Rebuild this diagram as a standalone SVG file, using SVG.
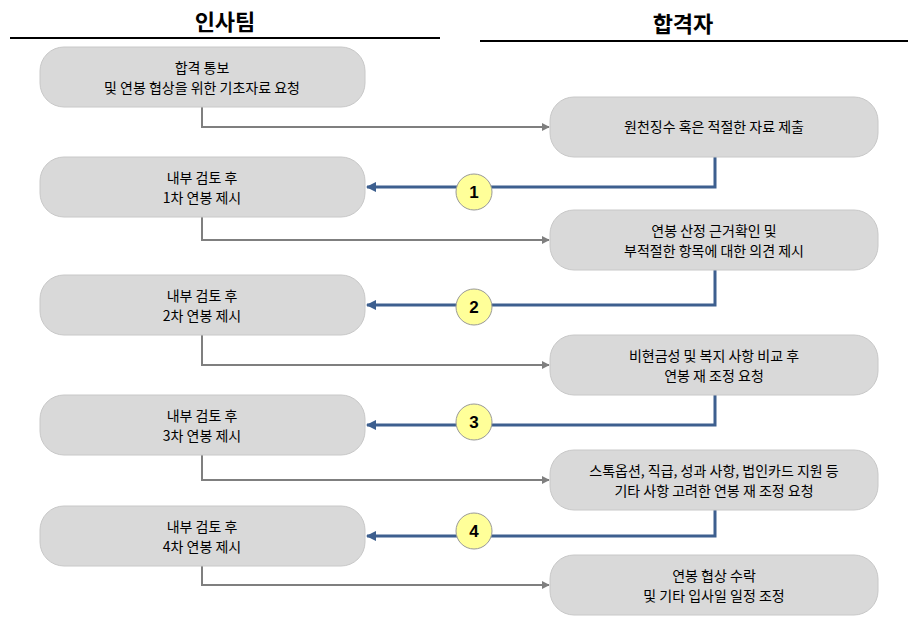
<svg xmlns="http://www.w3.org/2000/svg" width="910" height="630" viewBox="0 0 910 630">
<defs>
<marker id="ag" viewBox="0 0 10 10" refX="9" refY="5" markerWidth="4" markerHeight="4" orient="auto"><path d="M0,0L10,5L0,10z" fill="#7f7f7f"/></marker>
<marker id="ab" viewBox="0 0 10 10" refX="9" refY="5" markerWidth="3.5" markerHeight="3.5" orient="auto"><path d="M0,0L10,5L0,10z" fill="#3d5f8f"/></marker>
</defs>
<style>
.b{fill:#d9d9d9;stroke:#c8c8c8;stroke-width:1}
.t{font-family:"Noto Sans CJK KR",sans-serif;font-size:14px;fill:#000;text-anchor:middle}
.h{font-family:"Noto Sans CJK KR",sans-serif;font-size:22px;font-weight:bold;text-anchor:middle}
.g{fill:none;stroke:#7f7f7f;stroke-width:2;marker-end:url(#ag)}
.bl{fill:none;stroke:#3d5f8f;stroke-width:3;marker-end:url(#ab)}
.c{fill:#ffff99;stroke:#999;stroke-width:1}
.n{font-family:"Liberation Sans",sans-serif;font-size:17px;font-weight:bold;text-anchor:middle}
</style>
<rect width="910" height="630" fill="#fff"/>
<text class="h" x="225" y="30">인사팀</text>
<line x1="10" y1="38" x2="440" y2="38" stroke="#000" stroke-width="2"/>
<text class="h" x="683" y="32">합격자</text>
<line x1="480" y1="41" x2="908" y2="41" stroke="#000" stroke-width="2"/>
<g id="connectors">
<path class="g" d="M202,107V127H549"/>
<path class="bl" d="M715,157V187H367"/>
<path class="g" d="M202,217V240H549"/>
<path class="bl" d="M715,270V305H367"/>
<path class="g" d="M202,335V365H549"/>
<path class="bl" d="M715,395V425H367"/>
<path class="g" d="M202,455V480H549"/>
<path class="bl" d="M715,510V536H367"/>
<path class="g" d="M202,566V585H549"/>
</g>
<g id="c1"><ellipse class="c" cx="474" cy="192" rx="18" ry="18"/><text class="n" x="474" y="198">1</text></g>
<g id="c2"><ellipse class="c" cx="474" cy="307" rx="18" ry="18"/><text class="n" x="474" y="313">2</text></g>
<g id="c3"><ellipse class="c" cx="474" cy="422" rx="18" ry="18"/><text class="n" x="474" y="428">3</text></g>
<g id="c4"><ellipse class="c" cx="474" cy="531" rx="18" ry="18"/><text class="n" x="474" y="537">4</text></g>
<g id="l0"><rect class="b" x="40" y="47" width="325" height="60" rx="24"/><text class="t" x="202" y="73">합격 통보</text><text class="t" x="202" y="93">및 연봉 협상을 위한 기초자료 요청</text></g>
<g id="r0"><rect class="b" x="550" y="97" width="328" height="60" rx="24"/><text class="t" x="714" y="132">원천징수 혹은 적절한 자료 제출</text></g>
<g id="l1"><rect class="b" x="40" y="157" width="325" height="60" rx="24"/><text class="t" x="202" y="183">내부 검토 후</text><text class="t" x="202" y="203">1차 연봉 제시</text></g>
<g id="r1"><rect class="b" x="550" y="210" width="328" height="60" rx="24"/><text class="t" x="714" y="236">연봉 산정 근거확인 및</text><text class="t" x="714" y="256">부적절한 항목에 대한 의견 제시</text></g>
<g id="l2"><rect class="b" x="40" y="275" width="325" height="60" rx="24"/><text class="t" x="202" y="301">내부 검토 후</text><text class="t" x="202" y="321">2차 연봉 제시</text></g>
<g id="r2"><rect class="b" x="550" y="335" width="328" height="60" rx="24"/><text class="t" x="714" y="361">비현금성 및 복지 사항 비교 후</text><text class="t" x="714" y="381">연봉 재 조정 요청</text></g>
<g id="l3"><rect class="b" x="40" y="395" width="325" height="60" rx="24"/><text class="t" x="202" y="421">내부 검토 후</text><text class="t" x="202" y="441">3차 연봉 제시</text></g>
<g id="r3"><rect class="b" x="550" y="450" width="328" height="60" rx="24"/><text class="t" x="714" y="476">스톡옵션, 직급, 성과 사항, 법인카드 지원  등</text><text class="t" x="714" y="496">기타 사항 고려한 연봉 재 조정 요청</text></g>
<g id="l4"><rect class="b" x="40" y="506" width="325" height="60" rx="24"/><text class="t" x="202" y="532">내부 검토 후</text><text class="t" x="202" y="552">4차 연봉 제시</text></g>
<g id="r4"><rect class="b" x="550" y="555" width="328" height="60" rx="24"/><text class="t" x="714" y="581">연봉 협상 수락</text><text class="t" x="714" y="601">및 기타 입사일 일정 조정</text></g>
</svg>
